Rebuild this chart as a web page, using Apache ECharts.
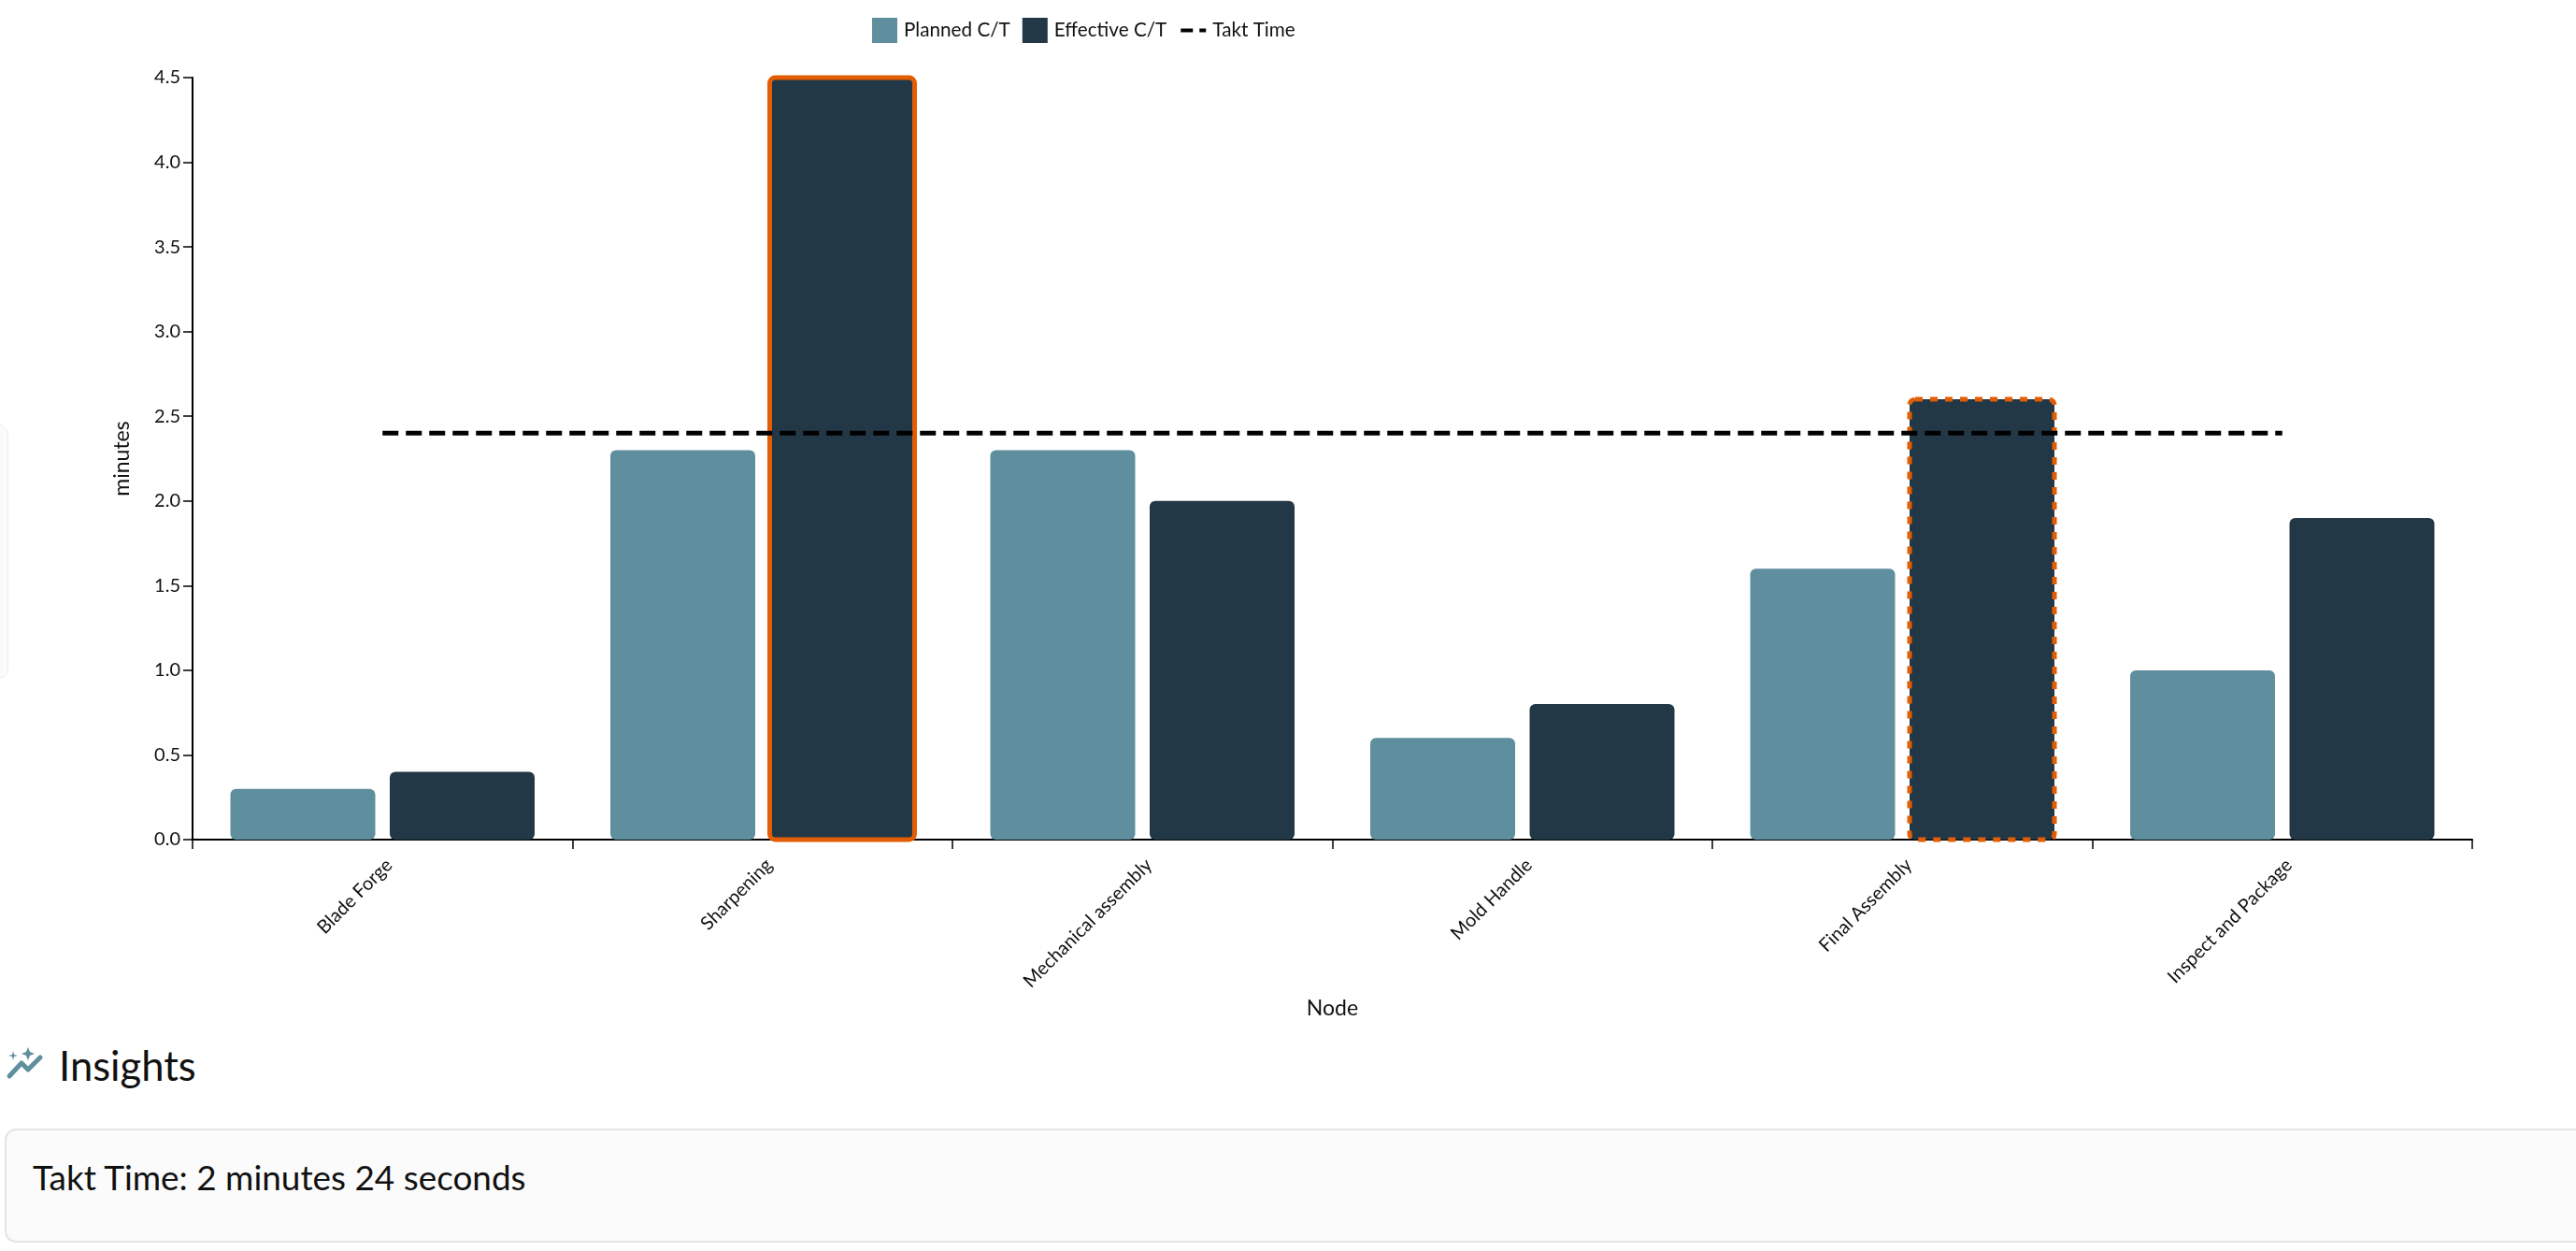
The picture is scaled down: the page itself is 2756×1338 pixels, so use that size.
<!DOCTYPE html>
<html lang="en">

<head>
    <meta charset="UTF-8">
    <title>Cycle time</title>
    <script src="https://cdn.jsdelivr.net/npm/echarts@6/dist/echarts.min.js"></script>
    <style>
        html, body { margin: 0; padding: 0; width: 2756px; height: 1338px; overflow: hidden; background: #fff; font-family: Lato, sans-serif; color: #111; }
        #chart { position: absolute; left: 0; top: 0; width: 2756px; height: 1100px; }
        .side-card { position: absolute; left: -20px; top: 454px; width: 27px; height: 270px; background: #fbfbfb; border: 1px solid #ececec; border-radius: 10px; }
        .insights-icon { position: absolute; left: 5px; top: 1120px; width: 44px; height: 36px; }
        .insights-title { position: absolute; left: 63px; top: 1112px; font-size: 43.6px; line-height: 54px; }
        .insights-card { position: absolute; left: 5px; top: 1207px; width: 2800px; height: 118px; background: #fbfbfb; border: 2px solid #e4e4e4; border-radius: 12px; }
        .insights-card span { position: absolute; left: 28px; top: 25px; font-size: 36.9px; line-height: 50px; }
    </style>
</head>

<body>
    <div id="chart"></div>
    <div class="side-card"></div>

    <svg class="insights-icon" viewBox="0 0 44 36">
        <path d="M5 31 L18 17 L25 24 L38 11" fill="none" stroke="#5f8f9e" stroke-width="5" stroke-linecap="round" stroke-linejoin="round" />
        <path d="M9 4 L10 8 L14 9 L10 10 L9 14 L8 10 L4 9 L8 8 Z M25 0 L27 5 L32 7 L27 9 L25 14 L23 9 L18 7 L23 5 Z" fill="#5f8f9e" />
    </svg>
    <div class="insights-title">Insights</div>
    <div class="insights-card"><span>Takt Time: 2 minutes 24 seconds</span></div>

    <script>
        // values
        const categories = ['Blade Forge', 'Sharpening', 'Mechanical assembly', 'Mold Handle', 'Final Assembly', 'Inspect and Package'];
        const plannedCT = [0.3, 2.3, 2.3, 0.6, 1.6, 1.0];
        const effectiveCT = [0.4, 4.5, 2.0, 0.8, 2.6, 1.9];
        const taktTime = [2.4, 2.4, 2.4, 2.4, 2.4, 2.4];
        const solidOutlined = [1];
        const dashedOutlined = [4];

        const PLANNED_COLOR = '#5f8f9e';
        const EFFECTIVE_COLOR = '#223846';
        const ALERT_COLOR = '#e35d04';
        const TEXT_COLOR = '#111';
        const FONT = 'Lato';
        const BAR_WIDTH = 155;
        const BAR_GAP = 15.5;

        const outlineData = [];
        solidOutlined.forEach(function (i) { outlineData.push([i, effectiveCT[i], 0]); });
        dashedOutlined.forEach(function (i) { outlineData.push([i, effectiveCT[i], 1]); });

        // echarts insets a bar's border, so the outlines are stroked on the bar edge here
        function renderOutline(params, api) {
            const base = api.coord([api.value(0), 0]);
            const top = api.coord([api.value(0), api.value(1)]);
            return {
                type: 'rect',
                shape: {
                    x: base[0] + BAR_GAP / 2,
                    y: top[1],
                    width: BAR_WIDTH,
                    height: base[1] - top[1],
                    r: 6
                },
                style: {
                    fill: 'none',
                    stroke: ALERT_COLOR,
                    lineWidth: 5,
                    lineDash: api.value(2) ? [8, 8] : null
                }
            };
        }

        const myChart = echarts.init(document.getElementById('chart'), null, { renderer: 'canvas' });
        myChart.setOption({
            animation: false,
            textStyle: { fontFamily: FONT, color: TEXT_COLOR },
            legend: {
                left: 933,
                top: 19,
                padding: 0,
                itemWidth: 27,
                itemHeight: 27,
                itemGap: 13,
                textStyle: { fontFamily: FONT, fontSize: 20.7, color: TEXT_COLOR, padding: [0, 0, 0, 2] },
                data: [
                    { name: 'Planned C/T', icon: 'rect' },
                    { name: 'Effective C/T', icon: 'rect' },
                    { name: 'Takt Time', itemStyle: { color: 'transparent' }, lineStyle: { type: [13, 7], width: 4 } }
                ]
            },
            grid: { left: 206, right: 111, top: 83, height: 815 },
            xAxis: {
                type: 'category',
                data: categories,
                name: 'Node',
                nameLocation: 'middle',
                nameGap: 131,
                nameTextStyle: { fontFamily: FONT, fontSize: 23, color: TEXT_COLOR },
                axisLine: { lineStyle: { color: '#000', width: 2 } },
                axisTick: { show: true, length: 10, lineStyle: { color: '#000', width: 1.5 } },
                axisLabel: {
                    interval: 0,
                    rotate: 45,
                    align: 'right',
                    verticalAlign: 'middle',
                    margin: 31,
                    padding: [0, -10, 0, 0],
                    fontFamily: FONT,
                    fontSize: 20,
                    color: TEXT_COLOR
                }
            },
            yAxis: {
                type: 'value',
                min: 0,
                max: 4.5,
                interval: 0.5,
                name: 'minutes',
                nameLocation: 'middle',
                nameGap: 64,
                nameTextStyle: { fontFamily: FONT, fontSize: 23, color: TEXT_COLOR },
                splitLine: { show: false },
                axisLine: { show: true, lineStyle: { color: '#000', width: 2 } },
                axisTick: { show: true, length: 10, lineStyle: { color: '#000', width: 1.5 } },
                axisLabel: {
                    margin: 13,
                    fontFamily: FONT,
                    fontSize: 20,
                    color: TEXT_COLOR,
                    formatter: function (v) { return v.toFixed(1); }
                }
            },
            series: [
                {
                    name: 'Planned C/T',
                    type: 'bar',
                    data: plannedCT,
                    barWidth: BAR_WIDTH,
                    barGap: '10%',
                    itemStyle: { color: PLANNED_COLOR, borderRadius: 6 }
                },
                {
                    name: 'Effective C/T',
                    type: 'bar',
                    data: effectiveCT,
                    barWidth: BAR_WIDTH,
                    itemStyle: { color: EFFECTIVE_COLOR, borderRadius: 6 }
                },
                {
                    name: 'Outline',
                    type: 'custom',
                    data: outlineData,
                    renderItem: renderOutline,
                    clip: false,
                    z: 4,
                    silent: true
                },
                {
                    name: 'Takt Time',
                    type: 'line',
                    data: taktTime,
                    symbol: 'none',
                    z: 5,
                    lineStyle: { color: '#000', width: 5, type: [17, 8] },
                    itemStyle: { color: '#000' }
                }
            ]
        });
    </script>
</body>

</html>
